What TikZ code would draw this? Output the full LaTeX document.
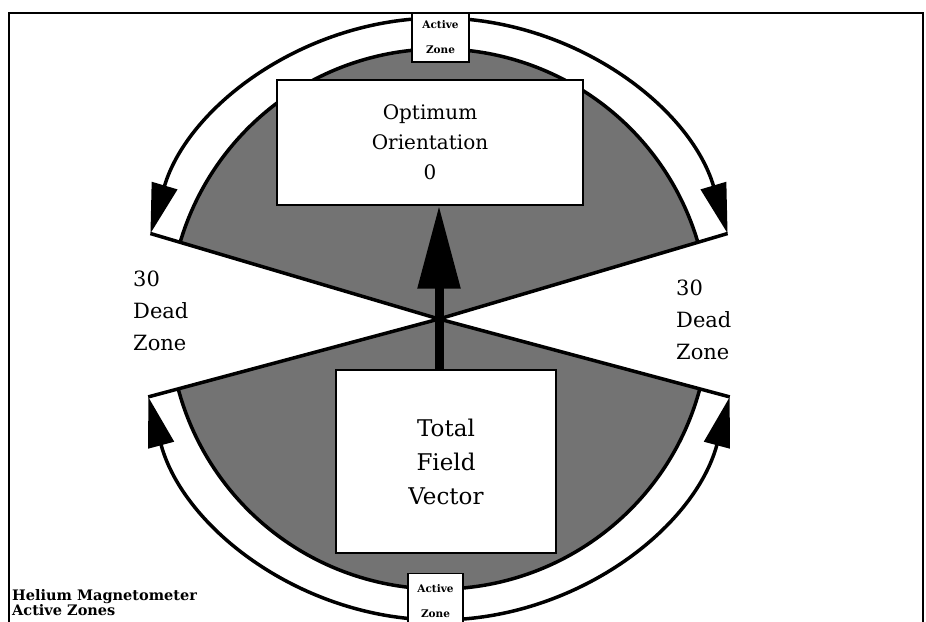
\documentclass[tikz,border=0pt]{standalone}
\usepackage{fontspec}
\setmainfont{DejaVu Serif}
\usetikzlibrary{arrows.meta,positioning}
\colorlet{halftone}{black!55}
\tikzset{
  heavy/.style={line width=3.5pt},
  zonebox/.style={draw, fill=white, line width=1.2pt, align=center, inner sep=0pt,
    font=\fontsize{10.5}{25}\selectfont\bfseries},
  infobox/.style={draw, fill=white, line width=1.5pt, align=center, inner sep=0pt},
  deadtext/.style={align=left, inner sep=0pt, font=\fontsize{21}{32}\selectfont}
}
\begin{document}
\begin{tikzpicture}[x=1pt, y=1pt]
  \useasboundingbox (0,0) rectangle (926,621);
  % Frame of the figure
  \draw[line width=1.5pt] (9,-5) -- (9,608) -- (923,608) -- (923,-5);

  \coordinate (O) at (439,302);
  \begin{scope}[shift={(O)}]
    % Upper active zone
    \fill[halftone] (0,0) -- (16.5:270pt) arc[start angle=16.5, end angle=163.5, radius=270pt] -- cycle;
    \draw[heavy] (16.5:270pt) arc[start angle=16.5, end angle=163.5, radius=270pt];
    \draw[heavy, -{Triangle[length=50pt, width=26pt]}] (90:301pt) arc[start angle=90, end angle=163.5, radius=301pt];
    \draw[heavy, -{Triangle[length=50pt, width=26pt]}] (90:301pt) arc[start angle=90, end angle=16.5, radius=301pt];
    \draw[heavy, line join=miter] (163.5:301pt) -- (0,0) -- (16.5:301pt);
    % Lower active zone
    \fill[halftone] (0,0) -- (-15:270pt) arc[start angle=-15, end angle=-165, radius=270pt] -- cycle;
    \draw[heavy] (-15:270pt) arc[start angle=-15, end angle=-165, radius=270pt];
    \draw[heavy, -{Triangle[length=50pt, width=26pt]}] (-90:301pt) arc[start angle=-90, end angle=-165, radius=301pt];
    \draw[heavy, -{Triangle[length=50pt, width=26pt]}] (-90:301pt) arc[start angle=-90, end angle=-15, radius=301pt];
    \draw[heavy, line join=miter] (-165:301pt) -- (0,0) -- (-15:301pt);
  \end{scope}

  % Boxes
  \node[infobox, minimum width=306pt, minimum height=125pt, font=\fontsize{20}{30}\selectfont]
    (optimum) at (430,478.5) {Optimum\\Orientation\\0};
  \node[infobox, minimum width=220pt, minimum height=183pt, font=\fontsize{23}{34}\selectfont]
    (field) at (446,159.5) {Total\\Field\\Vector};
  \draw[line width=9pt, -{Triangle[length=83pt, width=41pt]}] (field.north -| O) -- (optimum.south -| O);

  \node[zonebox, minimum width=57pt, minimum height=49pt] (topzone) at (440.5,583.5) {Active\\Zone};
  \node[zonebox, minimum width=55pt, minimum height=54pt, anchor=north] (bottomzone) at (435.5,48) {Active\\Zone};

  % Dead zones
  \node[deadtext, anchor=north west] (leftdead) at (133,350) {30\\Dead\\Zone};
  \node[deadtext, anchor=north west] (rightdead) at (676,341) {30\\Dead\\Zone};

  % Caption
  \node[align=left, inner sep=0pt, anchor=south west, font=\fontsize{14.5}{15.5}\selectfont\bfseries]
    (caption) at (12,5) {Helium Magnetometer\\Active Zones};
\end{tikzpicture}
\end{document}
